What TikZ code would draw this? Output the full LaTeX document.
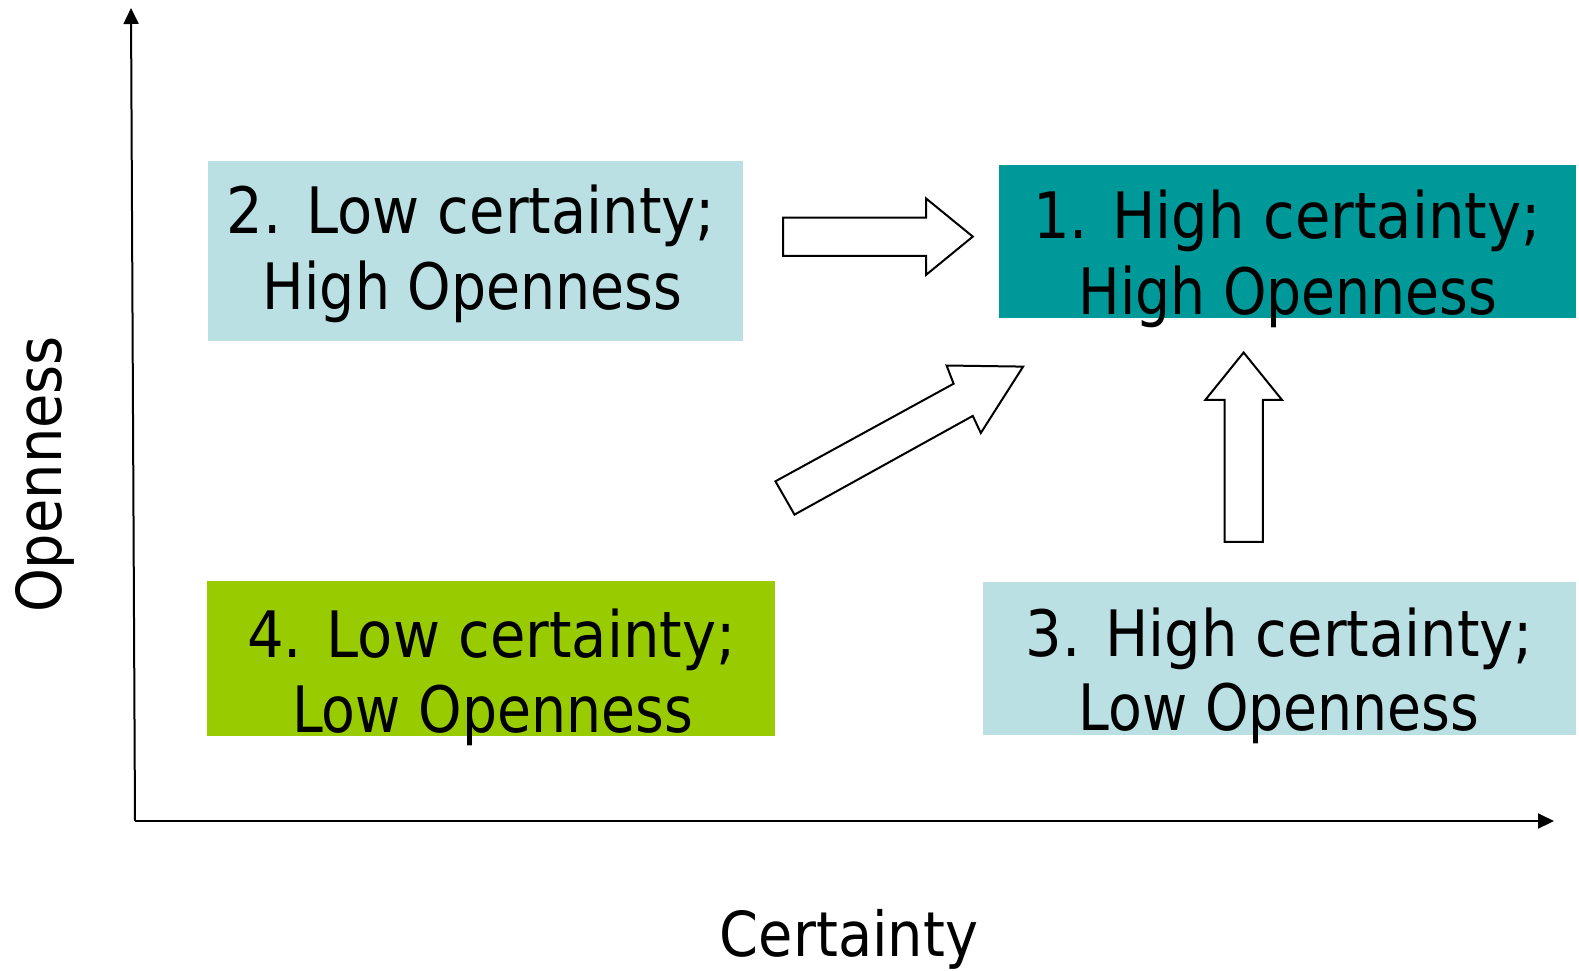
\documentclass[tikz,border=0pt]{standalone}
\usepackage{fontspec}
\setmainfont{DejaVu Sans}[FakeStretch=0.9]
\usetikzlibrary{arrows.meta}
\definecolor{lblue}{RGB}{187,224,227}
\definecolor{tealbox}{RGB}{0,153,153}
\definecolor{greenbox}{RGB}{153,204,0}
\newcommand\narrowline[1]{\scalebox{0.96}[1]{#1}}
\begin{document}
\begin{tikzpicture}[x=1pt,y=-1pt,
  quad/.style={draw=none,inner sep=0pt,outer sep=0pt,rectangle},
  lbl/.style={inner sep=0pt,anchor=base,font=\fontsize{64}{75}\selectfont},
  axlbl/.style={inner sep=0pt,anchor=base,font=\fontsize{62}{72}\selectfont},
  axis/.style={line width=2pt,-{Triangle[length=16pt,width=15pt]}},
  blockarrow/.style={draw=black,line width=2pt,fill=white,line join=miter}]
\useasboundingbox (0,0) rectangle (1579,970);
% quadrant boxes
\node[quad,fill=lblue,minimum width=535pt,minimum height=180pt] (b2) at (475.5,251) {};
\node[quad,fill=tealbox,minimum width=577pt,minimum height=153pt] (b1) at (1287.5,241.5) {};
\node[quad,fill=greenbox,minimum width=568pt,minimum height=155pt] (b4) at (491,658.5) {};
\node[quad,fill=lblue,minimum width=593pt,minimum height=153pt] (b3) at (1279.5,658.5) {};
% texts
\node[lbl] (t2a) at (471,233.6) {2. Low certainty;};
\node[lbl] (t2b) at (472.5,309) {\narrowline{High Openness}};
\node[lbl] (t1a) at (1287,238.7) {1. High certainty;};
\node[lbl] (t1b) at (1288,314) {\narrowline{High Openness}};
\node[lbl] (t3a) at (1279.5,656.6) {3. High certainty;};
\node[lbl] (t3b) at (1279,730) {\narrowline{Low Openness}};
\node[lbl] (t4a) at (491.5,657.6) {4. Low certainty;};
\node[lbl] (t4b) at (492.5,732) {\narrowline{Low Openness}};
% block arrows
\draw[blockarrow] (783,217.5) -- (926,217.5) -- (926,198.4) -- (972.8,236.6) -- (926,274.9) -- (926,255.8) -- (783,255.8) -- cycle;
\draw[blockarrow] (775.4,481.3) -- (953.6,383.7) -- (946.6,365.5) -- (1023.1,366.6) -- (980.8,433) -- (972.8,415.9) -- (794.5,514.6) -- cycle;
\draw[blockarrow] (1224.5,541.8) -- (1224.5,399.8) -- (1205.4,399.8) -- (1243.6,352.5) -- (1281.9,399.8) -- (1262.8,399.8) -- (1262.8,541.8) -- cycle;
% axes
\coordinate (O) at (135,821);
\coordinate (ytop) at (131,8);
\coordinate (xend) at (1554,821);
\draw[axis] (O) -- (ytop);
\draw[axis] (O) -- (xend);
\node[axlbl,rotate=90] (ylab) at (61,474.5) {Openness};
\node[axlbl] (xlab) at (849,956) {Certainty};
\end{tikzpicture}
\end{document}
